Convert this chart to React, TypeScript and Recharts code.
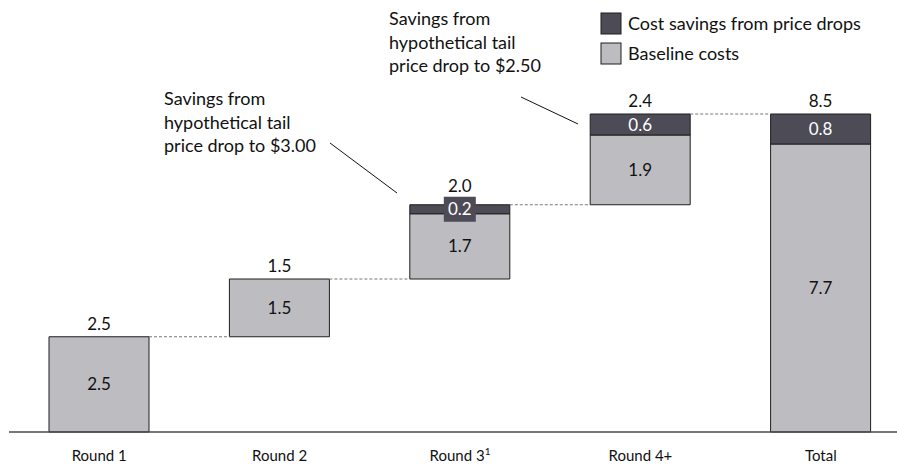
import { BarChart, Bar, XAxis, YAxis, LabelList, Legend } from 'recharts';

// Waterfall of procurement costs by round ($M)
const categories = ['Round 1', 'Round 2', 'Round 3', 'Round 4+', 'Total'];
const footnotes = ['', '', '1', '', ''];
const baselineCosts = [2.54, 1.54, 1.74, 1.86, 7.68];
const priceDropSavings = [0, 0, 0.24, 0.56, 0.8];

const FONT = 'Lato, "Open Sans", sans-serif';
const LIGHT = '#bdbcc1';
const DARK = '#4c4b56';
const EDGE = '#1f1f1f';

const CHART_W = 911;
const CHART_H = 466;
const MARGIN = { top: 57, right: 0, bottom: 0, left: 9 };
const BAR_SIZE = 100;
const GAP = (CHART_W - MARGIN.left - MARGIN.right) / categories.length - BAR_SIZE;
const THIN = 20; // caps thinner than this get a tag box behind their label
const TAG_H = 25;

// Each round starts where the previous one ended; the total starts at zero
let running = 0;
const data = categories.map((name, i) => {
  const isTotal = i === categories.length - 1;
  const offset = isTotal ? 0 : running;
  const total = baselineCosts[i] + priceDropSavings[i];
  if (!isTotal) running += total;
  return { name, offset, baseline: baselineCosts[i], savings: priceDropSavings[i], total, isTotal };
});

const box = (props: any) => {
  const vb = props.viewBox || {};
  return {
    x: Number(props.x ?? vb.x),
    y: Number(props.y ?? vb.y),
    width: Number(props.width ?? vb.width),
    height: Number(props.height ?? vb.height),
  };
};

function SavingsLabel(props: any) {
  const { x, y, width, height } = box(props);
  const v = Number(props.value);
  if (!v) return null;
  const cx = x + width / 2;
  const cy = y + height / 2;
  return (
    <g>
      {height < THIN && <rect x={cx - 16} y={cy - TAG_H / 2} width={32} height={TAG_H} fill={DARK} />}
      <text x={cx} y={cy} dy="0.36em" textAnchor="middle" fill="#fff" fontSize={17} fontFamily={FONT}>
        {v.toFixed(1)}
      </text>
    </g>
  );
}

// Sits on the baseline segment: prints the column total above the savings cap
// and draws the dotted step line across to the next column
function TopLabel(props: any) {
  const { x, y, width, height } = box(props);
  const row = data[props.index];
  if (!row) return null;
  const capH = row.savings * (height / row.baseline);
  const top = y - capH;
  // keep the total clear of a tag box on thin caps
  const clear = row.savings && capH < THIN ? Math.min(top, y - capH / 2 - TAG_H / 2) - 5 : top - 7;
  const right = x + width;
  return (
    <g>
      <text x={x + width / 2} y={clear} textAnchor="middle" fill="#111" fontSize={17} fontFamily={FONT}>
        {row.total.toFixed(1)}
      </text>
      {!row.isTotal && (
        <line x1={right} y1={top} x2={right + GAP} y2={top} stroke="#777" strokeDasharray="3 2" strokeWidth={1} />
      )}
    </g>
  );
}

function CategoryTick({ x, y, payload }: any) {
  const i = categories.indexOf(payload.value);
  const note = footnotes[i];
  return (
    <text x={x} y={y} dy={29} textAnchor="middle" fill="#111" fontSize={15} fontFamily={FONT}>
      {payload.value}
      {note && (
        <tspan dy={-6} fontSize={10}>
          {note}
        </tspan>
      )}
    </text>
  );
}

function LegendBox() {
  const items = [
    { label: 'Cost savings from price drops', color: DARK },
    { label: 'Baseline costs', color: LIGHT },
  ];
  return (
    <svg width={296} height={60} style={{ display: 'block' }}>
      {items.map((it, i) => (
        <g key={it.label} transform={`translate(0, ${i * 30})`}>
          <rect x={1} y={1} width={20} height={21} fill={it.color} stroke={EDGE} strokeWidth={1} />
          <text x={28} y={12} dy="0.35em" fontSize={18} fontFamily={FONT} fill="#111">
            {it.label}
          </text>
        </g>
      ))}
    </svg>
  );
}

const notes = [
  { x: 164, y: 105, lines: ['Savings from', 'hypothetical tail', 'price drop to $3.00'], from: [330, 143], to: [397, 193] },
  { x: 389, y: 25, lines: ['Savings from', 'hypothetical tail', 'price drop to $2.50'], from: [521, 97], to: [578, 124] },
];

export default function App() {
  return (
    <div style={{ position: 'absolute', left: 0, top: 0, width: 897, height: 466, overflow: 'hidden', background: '#fff' }}>
      <BarChart width={CHART_W} height={CHART_H} data={data} margin={MARGIN} barSize={BAR_SIZE}>
        <XAxis
          dataKey="name"
          height={34}
          tickLine={false}
          tickSize={0}
          tickMargin={0}
          axisLine={{ stroke: '#4a4a4a', strokeWidth: 1.5 }}
          tick={<CategoryTick />}
          interval={0}
        />
        <YAxis hide domain={[0, 10]} />
        <Bar dataKey="offset" stackId="w" fill="transparent" legendType="none" isAnimationActive={false} />
        <Bar dataKey="baseline" stackId="w" fill={LIGHT} stroke={EDGE} strokeWidth={1} isAnimationActive={false}>
          <LabelList
            dataKey="baseline"
            position="center"
            formatter={(v: any) => Number(v).toFixed(1)}
            fill="#111"
            fontSize={17}
            fontFamily={FONT}
          />
          <LabelList dataKey="total" content={<TopLabel />} />
        </Bar>
        <Bar dataKey="savings" stackId="w" fill={DARK} stroke={EDGE} strokeWidth={1} isAnimationActive={false}>
          <LabelList dataKey="savings" content={<SavingsLabel />} />
        </Bar>
        <Legend
          layout="vertical"
          align="center"
          verticalAlign="middle"
          wrapperStyle={{ left: 600, top: 12, width: 'auto', height: 'auto' }}
          content={() => <LegendBox />}
        />
      </BarChart>
      <svg width={897} height={466} style={{ position: 'absolute', left: 0, top: 0, pointerEvents: 'none' }}>
        {notes.map((n) => (
          <g key={n.lines[2]}>
            {n.lines.map((l, i) => (
              <text key={l} x={n.x} y={n.y + i * 23.5} fontSize={18} fontFamily={FONT} fill="#111">
                {l}
              </text>
            ))}
            <line x1={n.from[0]} y1={n.from[1]} x2={n.to[0]} y2={n.to[1]} stroke="#111" strokeWidth={1} />
          </g>
        ))}
      </svg>
    </div>
  );
}
